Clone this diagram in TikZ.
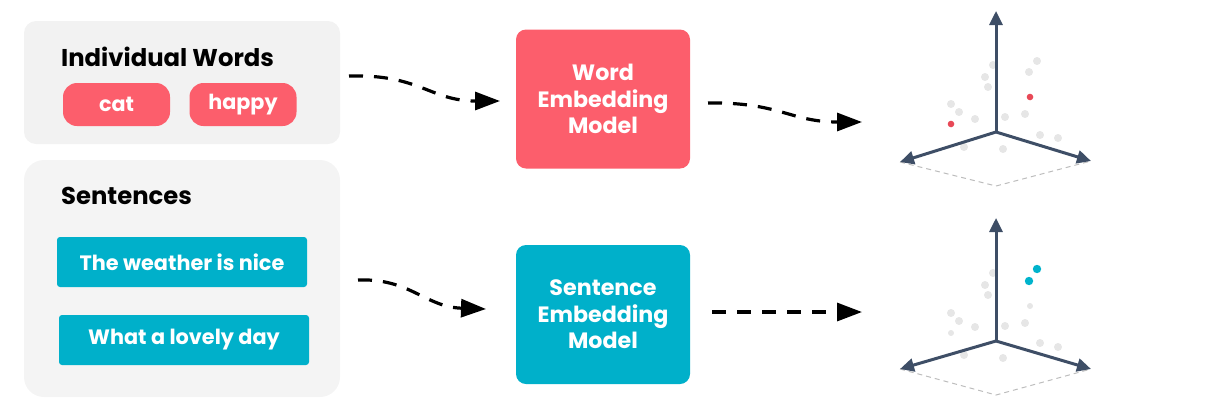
\documentclass[tikz,border=0pt]{standalone}
\usepackage{fontspec}
\setmainfont{Poppins}[BoldFont={Poppins Bold}]
\usetikzlibrary{arrows.meta}
\definecolor{wred}{HTML}{FC5E6C}
\definecolor{scyan}{HTML}{00B0CA}
\definecolor{panelA}{HTML}{F2F2F2}
\definecolor{panelB}{HTML}{F4F4F4}
\definecolor{axisc}{HTML}{3E4E66}
\definecolor{dotc}{HTML}{E6E6E6}
\definecolor{reddot}{HTML}{E84957}
\definecolor{cyandot}{HTML}{00B3CC}
\definecolor{dashg}{HTML}{BDBDBD}
\tikzset{
  title/.style={anchor=base west, font=\fontsize{24.3}{28}\selectfont\bfseries, text=black, inner sep=0pt},
  pill/.style={fill=wred, rounded corners=14pt, minimum width=107pt, minimum height=43pt, inner sep=0pt, text=white, font=\fontsize{20.7}{24}\selectfont\bfseries},
  sent/.style={fill=scyan, rounded corners=3pt, minimum width=250pt, minimum height=50pt, inner sep=0pt, text=white, font=\fontsize{20.8}{24}\selectfont\bfseries},
  model/.style={fill=#1, rounded corners=10pt, minimum width=174pt, minimum height=139pt, inner sep=0pt, text=white, align=center, font=\fontsize{22.2}{26.5}\selectfont\bfseries},
  flow/.style={line width=3.2pt, dash pattern=on 14pt off 11pt, -{Triangle[length=25pt,width=18pt]}},
  ax/.style={line width=3pt, draw=axisc, -{Triangle[length=14pt,width=13pt]}},
  floor/.style={line width=1pt, draw=dashg, dash pattern=on 5pt off 4pt},
  gdot/.style={fill=dotc, draw=none},
}
\begin{document}
\begin{tikzpicture}[x=1pt,y=-1pt]
\useasboundingbox (0,0) rectangle (1230,408);
% panels
\fill[panelA, rounded corners=12pt] (24,21) rectangle (340,144);
\fill[panelB, rounded corners=20pt] (24,160) rectangle (340,397);
\node[title] (tw) at (61,66) {Individual Words};
\node[title] (ts) at (61,204) {Sentences};
\node[pill] (cat) at (116.5,104.5) {cat};
\node[pill] (happy) at (243,104.5) {happy};
\node[sent] (s1) at (182,262) {The weather is nice};
\node[sent] (s2) at (184,340) {What a lovely day};
% models
\node[model=wred] (wm) at (603,99) {Word\\Embedding\\Model};
\node[model=scyan] (sm) at (603,314.5) {Sentence\\Embedding\\Model};
% connector anchors
\coordinate (a1s) at (349,76);
\coordinate (a1e) at (500,101);
\coordinate (a2s) at (358,280);
\coordinate (a2e) at (486,309);
\coordinate (b1s) at (708,103);
\coordinate (b1e) at (862,122);
\coordinate (b2s) at (712,312);
\coordinate (b2e) at (862,312);
\draw[flow] (a1s) .. controls (420,74) and (430,101) .. (a1e);
\draw[flow] (a2s) .. controls (410,278) and (425,307) .. (a2e);
\draw[flow] (b1s) .. controls (780,102) and (790,122) .. (b1e);
\draw[flow] (b2s) -- (b2e);
% plot 1
\coordinate (o1) at (996,132);
\coordinate (u1) at (996,11);
\coordinate (l1) at (900,162);
\coordinate (r1) at (1091,161);
\coordinate (f1) at (996,186);
\draw[floor] (l1) -- (f1) -- (r1);
\foreach \p in {(993,65),(985,77),(988,87),(1037,61),(1029,72),(951,104),(959,112),(975,119),(1005,117),(1025,114),(1040,135),(1058,138),(964,147),(1003,149)}
  \fill[gdot] \p circle (4pt);
\fill[reddot] (1030,97) circle (3.3pt);
\fill[reddot] (951,124) circle (3.3pt);
\draw[ax] (o1) -- (u1);
\draw[ax] (o1) -- (l1);
\draw[ax] (o1) -- (r1);
% plot 2
\coordinate (o2) at (996,341);
\coordinate (u2) at (996,218);
\coordinate (l2) at (900,369);
\coordinate (r2) at (1091,369);
\coordinate (f2) at (996,395);
\draw[floor] (l2) -- (f2) -- (r2);
\foreach \p in {(993,273),(985,285),(988,295),(951,313),(959,321),(975,327),(1005,326),(1025,323),(1040,343),(1058,347),(964,355),(1003,358)}
  \fill[gdot] \p circle (4pt);
\fill[dotc] (1030,306) circle (3pt);
\fill[dotc] (951,333) circle (3pt);
\fill[cyandot] (1037,269) circle (4.2pt);
\fill[cyandot] (1029,281) circle (4.2pt);
\draw[ax] (o2) -- (u2);
\draw[ax] (o2) -- (l2);
\draw[ax] (o2) -- (r2);
\end{tikzpicture}
\end{document}
